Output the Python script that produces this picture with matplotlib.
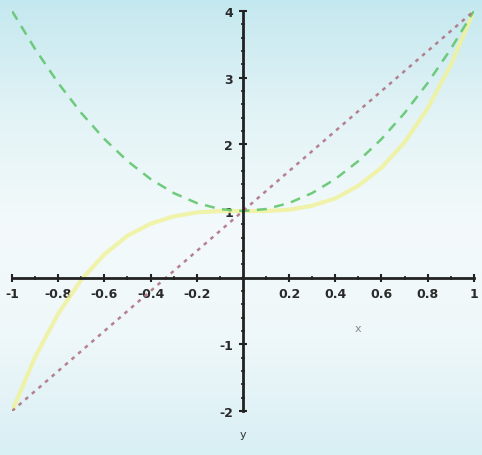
import numpy as np
import matplotlib.pyplot as plt
from matplotlib.colors import LinearSegmentedColormap

# values, x from -1 to 1 in steps of 0.1
x_vals = [-1.0, -0.9, -0.8, -0.7, -0.6, -0.5, -0.4, -0.3, -0.2, -0.1, 0.0,
          0.1, 0.2, 0.3, 0.4, 0.5, 0.6, 0.7, 0.8, 0.9, 1.0]
red_line = [-2.0, -1.7, -1.4, -1.1, -0.8, -0.5, -0.2, 0.1, 0.4, 0.7, 1.0,
            1.3, 1.6, 1.9, 2.2, 2.5, 2.8, 3.1, 3.4, 3.7, 4.0]
green_curve = [4.0, 3.43, 2.92, 2.47, 2.08, 1.75, 1.48, 1.27, 1.12, 1.03, 1.0,
               1.03, 1.12, 1.27, 1.48, 1.75, 2.08, 2.47, 2.92, 3.43, 4.0]
yellow_curve = [-2.0, -1.19, -0.54, -0.03, 0.35, 0.63, 0.81, 0.92, 0.98, 1.0, 1.0,
                1.0, 1.02, 1.08, 1.19, 1.38, 1.65, 2.03, 2.54, 3.19, 4.0]

x_ticks = [-1, -0.8, -0.6, -0.4, -0.2, 0.2, 0.4, 0.6, 0.8, 1]
x_labels = ["-1", "-0.8", "-0.6", "-0.4", "-0.2", "0.2", "0.4", "0.6", "0.8", "1"]
y_ticks = [-2, -1, 1, 2, 3, 4]
y_labels = ["-2", "-1", "1", "2", "3", "4"]

fig = plt.figure(figsize=(4.82, 4.56), dpi=100)

# sky-ish background
bg = fig.add_axes([0, 0, 1, 1], zorder=0)
bg_cmap = LinearSegmentedColormap.from_list(
    "sky", ["#c4e8ef", "#e2f3f6", "#f4fafb", "#eef7f9", "#d8eff4"])
grad = np.linspace(0, 1, 256).reshape(-1, 1)
bg.imshow(grad, aspect="auto", cmap=bg_cmap, extent=[0, 1, 0, 1], origin="upper")
bg.axis("off")

ax = fig.add_axes([0.025, 0.0965, 0.958, 0.877], zorder=1)
ax.patch.set_alpha(0)

x = np.array(x_vals)
ax.plot(x, yellow_curve, color="#f0f29c", lw=3, alpha=0.85,
        solid_capstyle="round", solid_joinstyle="round")
ax.plot(x, green_curve, color="#62c670", lw=1.8, ls=(0, (4, 3)), alpha=0.9)
ax.plot(x, red_line, color="#b07484", lw=1.8, ls=(0, (1.5, 2)), alpha=0.9)

ax.set_xlim(-1, 1)
ax.set_ylim(-2, 4)

ax.spines["left"].set_position(("data", 0))
ax.spines["bottom"].set_position(("data", 0))
ax.spines["top"].set_visible(False)
ax.spines["right"].set_visible(False)
for s in ["left", "bottom"]:
    ax.spines[s].set_linewidth(2)
    ax.spines[s].set_color("#222222")

ax.set_xticks(x_ticks)
ax.set_xticklabels(x_labels)
ax.set_yticks(y_ticks)
ax.set_yticklabels(y_labels)
ax.set_xticks(np.arange(-1, 1.01, 0.1), minor=True)
ax.set_yticks(np.arange(-2, 4.01, 0.2), minor=True)
ax.tick_params(which="major", direction="inout", length=6, width=1.5,
               color="#222222", labelsize=9, labelcolor="#2a2a2a")
ax.tick_params(which="minor", direction="inout", length=3, width=1.2, color="#222222")
ax.tick_params(axis="x", pad=4)
ax.tick_params(axis="y", pad=4)
for lab in ax.get_xticklabels() + ax.get_yticklabels():
    lab.set_fontweight("bold")

ax.text(0.5, -0.75, "x", fontsize=8, color="#888888", ha="center", va="center")
ax.text(0.0, -2.35, "y", fontsize=8, color="#333333", ha="center", va="center",
        clip_on=False)

fig.savefig("out.png", dpi=100)
